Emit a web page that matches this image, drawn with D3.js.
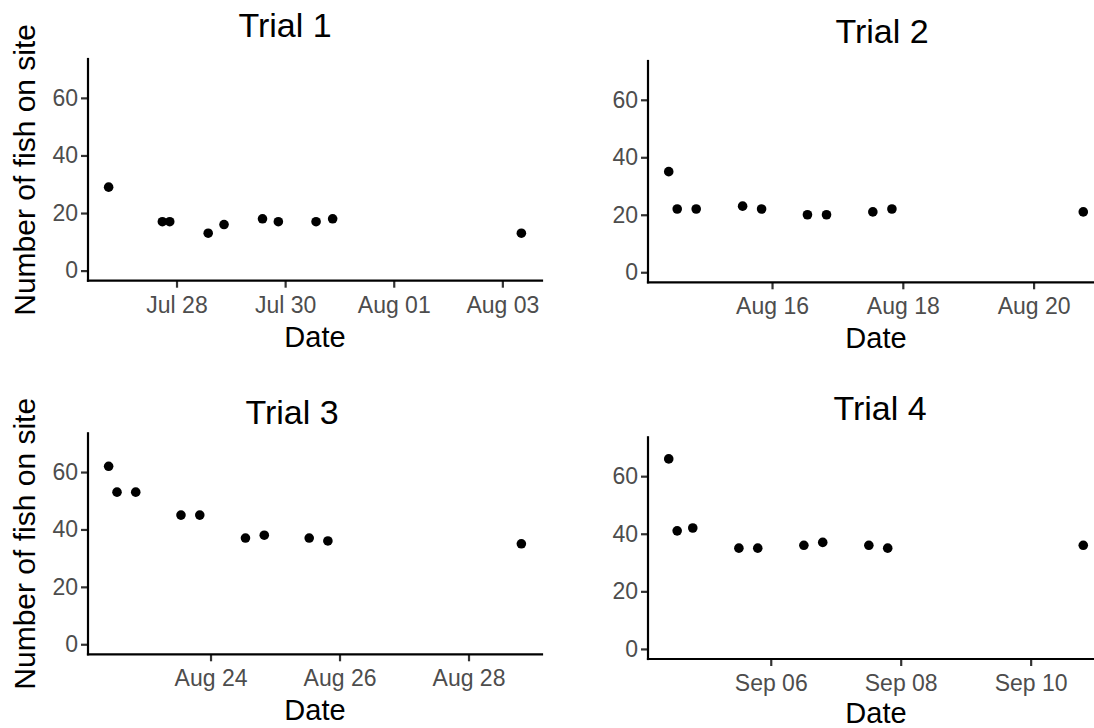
<!DOCTYPE html>
<html>
<head>
<meta charset="utf-8">
<script src="https://cdn.jsdelivr.net/npm/d3@7"></script>
<style>
  html, body { margin: 0; padding: 0; background: #fff; }
  svg { display: block; }
  text { font-family: "Liberation Sans", Arial, Helvetica, sans-serif; }
</style>
</head>
<body>
<svg id="chart" width="1094" height="728"></svg>
<script>
// Observation times (UTC) and fish counts for each trial
const trial1Times = ["2019-07-26T18:00", "2019-07-27T17:45", "2019-07-27T21:00", "2019-07-28T14:00", "2019-07-28T21:00",
                     "2019-07-29T14:00", "2019-07-29T21:00", "2019-07-30T13:40", "2019-07-30T21:00", "2019-08-03T08:24"];
const trial1Counts = [29, 17, 17, 13, 16, 18, 17, 17, 18, 13];

const trial2Times = ["2019-08-14T10:05", "2019-08-14T13:12", "2019-08-14T20:10", "2019-08-15T13:12", "2019-08-15T20:10",
                     "2019-08-16T13:00", "2019-08-16T20:00", "2019-08-17T13:00", "2019-08-17T20:00", "2019-08-20T18:14"];
const trial2Counts = [35, 22, 22, 23, 22, 20, 20, 21, 22, 21];

const trial3Times = ["2019-08-22T10:05", "2019-08-22T13:12", "2019-08-22T20:10", "2019-08-23T13:00", "2019-08-23T20:00",
                     "2019-08-24T13:00", "2019-08-24T20:00", "2019-08-25T12:43", "2019-08-25T19:40", "2019-08-28T19:40"];
const trial3Counts = [62, 53, 53, 45, 45, 37, 38, 37, 36, 35];

const trial4Times = ["2019-09-04T10:19", "2019-09-04T13:26", "2019-09-04T19:12", "2019-09-05T12:14", "2019-09-05T19:12",
                     "2019-09-06T12:14", "2019-09-06T19:12", "2019-09-07T12:14", "2019-09-07T19:12", "2019-09-10T19:26"];
const trial4Counts = [66, 41, 42, 35, 35, 36, 37, 36, 35, 36];

// Axis break labels
const trial1Ticks = ["2019-07-28", "2019-07-30", "2019-08-01", "2019-08-03"];
const trial2Ticks = ["2019-08-16", "2019-08-18", "2019-08-20"];
const trial3Ticks = ["2019-08-24", "2019-08-26", "2019-08-28"];
const trial4Ticks = ["2019-09-06", "2019-09-08", "2019-09-10"];
const countTicks = [0, 20, 40, 60];
const countLimits = [0, 70];

const titles = ["Trial 1", "Trial 2", "Trial 3", "Trial 4"];
const xTitle = "Date";
const yTitle = "Number of fish on site";

// Panel geometry (pixels)
const layout = [
  { left: 88,  right: 542,  top: 59,    bottom: 280.7, titleX: 285, titleY: 36.5, xTitleY: 346.5, yLabel: true },
  { left: 648, right: 1104, top: 61,    bottom: 282.3, titleX: 882, titleY: 42.5, xTitleY: 348,   yLabel: false },
  { left: 88,  right: 542,  top: 433.3, bottom: 654.3, titleX: 292, titleY: 424,  xTitleY: 720,   yLabel: true },
  { left: 648, right: 1104, top: 437.3, bottom: 659,   titleX: 880, titleY: 420,  xTitleY: 722.5, yLabel: false }
];

const parseTime = d3.utcParse("%Y-%m-%dT%H:%M");
const parseDay = d3.utcParse("%Y-%m-%d");
const fmt = d3.utcFormat("%b %d");

const panels = [
  { times: trial1Times, counts: trial1Counts, ticks: trial1Ticks },
  { times: trial2Times, counts: trial2Counts, ticks: trial2Ticks },
  { times: trial3Times, counts: trial3Counts, ticks: trial3Ticks },
  { times: trial4Times, counts: trial4Counts, ticks: trial4Ticks }
];

const svg = d3.select("#chart");

// ggplot-style 5% expansion of a continuous range
function expand(lo, hi) {
  const pad = (hi - lo) * 0.05;
  return [lo - pad, hi + pad];
}

panels.forEach((p, i) => {
  const L = layout[i];
  const pts = p.times.map((t, j) => ({ t: parseTime(t), n: p.counts[j] }));
  const ext = d3.extent(pts, d => +d.t);
  const xd = expand(ext[0], ext[1]);
  const x = d3.scaleUtc().domain([new Date(xd[0]), new Date(xd[1])]).range([L.left, L.right]);
  const y = d3.scaleLinear().domain(expand(countLimits[0], countLimits[1])).range([L.bottom, L.top]);

  const g = svg.append("g");

  // y axis
  const yAxis = g.append("g")
    .attr("transform", `translate(${L.left},0)`)
    .call(d3.axisLeft(y).tickValues(countTicks).tickSize(7).tickPadding(3).tickSizeOuter(0));
  yAxis.select(".domain").remove();
  yAxis.selectAll(".tick line").attr("stroke", "#333").attr("stroke-width", 2.2);
  yAxis.selectAll(".tick text").attr("fill", "#4d4d4d").attr("font-size", 23)
    .attr("font-family", "Liberation Sans, Arial, sans-serif");

  // x axis
  const xAxis = g.append("g")
    .attr("transform", `translate(0,${L.bottom})`)
    .call(d3.axisBottom(x).tickValues(p.ticks.map(parseDay)).tickFormat(fmt).tickSize(7).tickSizeOuter(0));
  xAxis.select(".domain").remove();
  xAxis.selectAll(".tick line").attr("stroke", "#333").attr("stroke-width", 2.2);
  xAxis.selectAll(".tick text").attr("fill", "#4d4d4d").attr("font-size", 23)
    .attr("font-family", "Liberation Sans, Arial, sans-serif")
    .attr("y", 32).attr("dy", 0);

  // axis lines
  g.append("line")
    .attr("x1", L.left).attr("x2", L.left).attr("y1", L.top).attr("y2", L.bottom)
    .attr("stroke", "#000").attr("stroke-width", 2.2).attr("stroke-linecap", "square");
  g.append("line")
    .attr("x1", L.left).attr("x2", L.right).attr("y1", L.bottom).attr("y2", L.bottom)
    .attr("stroke", "#000").attr("stroke-width", 2.2).attr("stroke-linecap", "square");

  // points
  g.append("g").selectAll("circle").data(pts).join("circle")
    .attr("cx", d => x(d.t)).attr("cy", d => y(d.n)).attr("r", 4.8).attr("fill", "#000");

  // titles
  g.append("text").attr("x", L.titleX).attr("y", L.titleY).attr("text-anchor", "middle")
    .attr("font-size", 34).attr("fill", "#000").text(titles[i]);
  g.append("text").attr("x", (L.left + L.right) / 2).attr("y", L.xTitleY).attr("text-anchor", "middle")
    .attr("font-size", 29).attr("fill", "#000").text(xTitle);
  if (L.yLabel) {
    g.append("text")
      .attr("transform", `translate(35,${(L.top + L.bottom) / 2}) rotate(-90)`)
      .attr("text-anchor", "middle").attr("font-size", 30).attr("fill", "#000").text(yTitle);
  }
});
</script>
</body>
</html>
